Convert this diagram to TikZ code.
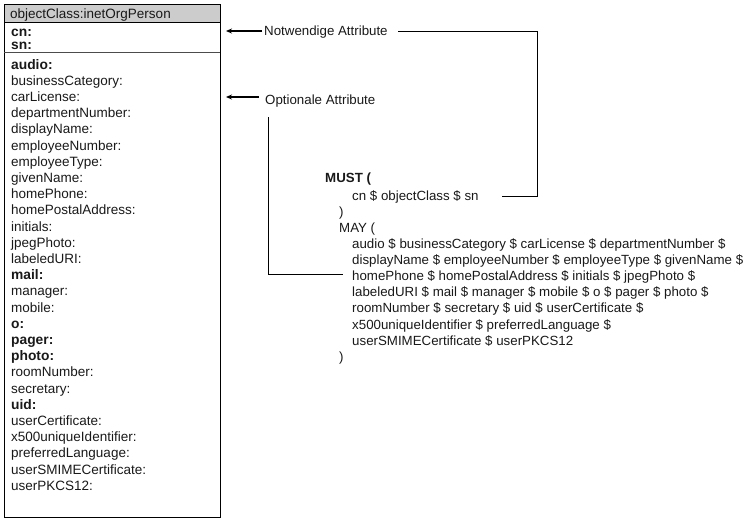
\documentclass[tikz,border=0pt]{standalone}
\usepackage{fontspec}
\setmainfont{Liberation Sans}
\usetikzlibrary{arrows.meta}
\begin{document}
\begin{tikzpicture}[x=1pt,y=-1pt,
  txt/.style={anchor=base west,inner sep=0pt,font=\fontsize{13.5}{16}\selectfont,text=black!90},
  rtxt/.style={txt,font=\fontsize{13.3}{16}\selectfont},
  bl/.style={txt,font=\fontsize{13.8}{16}\selectfont\bfseries},
  conn/.style={line width=0.8pt,black},
  arr/.style={line width=1.4pt,black,-{Stealth[length=6pt,width=5pt]}}]
\useasboundingbox (0,0) rectangle (749,523);
% class box
\fill[gray!40] (4,4) rectangle (220,22);
\draw[line width=0.9pt] (4,4) rectangle (220,517);
\draw[line width=0.8pt] (4,22) -- (220,22);
\draw[line width=0.6pt, black!70] (4,52) -- (220,52);
\node[txt] (hdr) at (10,18) {objectClass:inetOrgPerson};
\node[bl] (cn) at (11,36) {cn:};
\node[bl] (sn) at (11,49) {sn:};
\foreach \t/\b [count=\i from 0] in {audio:/1,businessCategory:/0,carLicense:/0,departmentNumber:/0,displayName:/0,employeeNumber:/0,employeeType:/0,givenName:/0,homePhone:/0,homePostalAddress:/0,initials:/0,jpegPhoto:/0,labeledURI:/0,mail:/1,manager:/0,mobile:/0,o:/1,pager:/1,photo:/1,roomNumber:/0,secretary:/0,uid:/1,userCertificate:/0,x500uniqueIdentifier:/0,preferredLanguage:/0,userSMIMECertificate:/0,userPKCS12:/0}{
  \ifnum\b=1
    \node[bl] (a\i) at (11,{69+16.2*\i}) {\t};
  \else
    \node[txt] (a\i) at (11,{69+16.2*\i}) {\t};
  \fi
}
% labels
\node[rtxt] (notw) at (264,35.5) {Notwendige Attribute};
\node[rtxt] (opt) at (265,104) {Optionale Attribute};
% schema text
\node[rtxt,font=\fontsize{13.3}{16}\selectfont\bfseries] (must) at (325,182) {MUST (};
\node[rtxt] (mustl) at (352,200) {cn \$ objectClass \$ sn};
\node[rtxt] (mustc) at (339,216) {)};
\node[rtxt] (may) at (339,232) {MAY (};
\node[rtxt] (m1) at (352,248) {audio \$ businessCategory \$ carLicense \$ departmentNumber \$};
\node[rtxt] (m2) at (352,264.2) {displayName \$ employeeNumber \$ employeeType \$ givenName \$};
\node[rtxt] (m3) at (352,280.4) {homePhone \$ homePostalAddress \$ initials \$ jpegPhoto \$};
\node[rtxt] (m4) at (352,296.6) {labeledURI \$ mail \$ manager \$ mobile \$ o \$ pager \$ photo \$};
\node[rtxt] (m5) at (352,312.8) {roomNumber \$ secretary \$ uid \$ userCertificate \$};
\node[rtxt] (m6) at (352,329) {x500uniqueIdentifier \$ preferredLanguage \$};
\node[rtxt] (m7) at (352,345.2) {userSMIMECertificate \$ userPKCS12};
\node[rtxt] (mayc) at (339,361.4) {)};
% connectors
\coordinate (nt) at (226,31);
\coordinate (ot) at (226,97);
\draw[arr] (262,31) -- (nt);
\draw[arr] (259,97) -- (ot);
\coordinate (nA) at (398,31);
\coordinate (nB) at (537,31);
\coordinate (nC) at (537,196);
\coordinate (nD) at (502,196);
\draw[conn] (nA) -- (nB) -- (nC) -- (nD);
\coordinate (oA) at (268,117);
\coordinate (oB) at (268,274);
\coordinate (oC) at (343,274);
\draw[conn] (oA) -- (oB) -- (oC);
\end{tikzpicture}
\end{document}
